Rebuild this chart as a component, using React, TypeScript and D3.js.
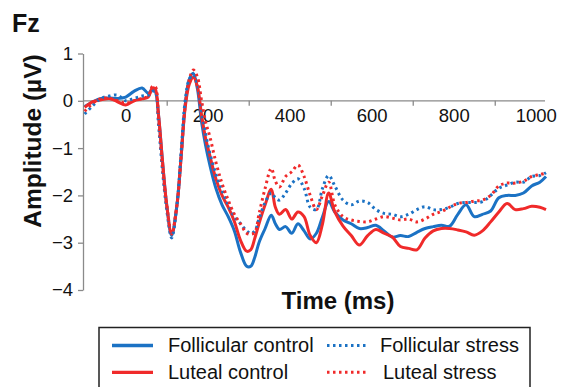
import React, { useEffect, useRef } from "react";
import * as d3 from "d3";

const times = [-100,-80,-60,-40,-20,0,20,40,55,65,72,80,90,100,112,125,135,145,155,165,175,185,195,205,220,235,250,265,280,295,305,315,325,340,355,365,375,390,405,420,435,450,465,480,495,510,530,550,570,590,610,630,650,670,690,710,730,750,770,790,810,830,850,870,890,910,930,950,970,990,1010,1025];

const follicularControl = [-0.12,-0.02,0.05,0.06,0.05,0.08,0.2,0.27,0.16,0.25,0.2,-0.3,-1.3,-2.2,-2.85,-2.2,-1.2,-0.1,0.45,0.58,0.25,-0.45,-0.95,-1.35,-1.85,-2.2,-2.45,-2.75,-3.2,-3.5,-3.5,-3.3,-3.0,-2.7,-2.42,-2.6,-2.72,-2.66,-2.8,-2.6,-2.75,-2.92,-2.8,-2.45,-2.13,-2.35,-2.52,-2.6,-2.7,-2.68,-2.63,-2.75,-2.88,-2.85,-2.87,-2.78,-2.7,-2.66,-2.63,-2.65,-2.4,-2.2,-2.45,-2.4,-2.33,-2.05,-2.0,-2.0,-1.95,-1.8,-1.72,-1.6];

const lutealControl = [-0.14,-0.02,0.02,0.05,-0.02,-0.09,0.0,0.04,0.08,0.27,0.25,-0.3,-1.3,-2.2,-2.82,-2.2,-1.2,-0.15,0.35,0.5,0.3,-0.3,-0.8,-1.15,-1.65,-2.0,-2.25,-2.55,-2.95,-3.18,-3.15,-2.9,-2.6,-2.2,-1.87,-2.25,-2.4,-2.3,-2.5,-2.35,-2.45,-2.85,-3.0,-2.6,-1.95,-2.35,-2.65,-2.85,-3.05,-2.85,-2.72,-2.8,-2.88,-3.08,-3.12,-3.15,-2.9,-2.75,-2.7,-2.7,-2.73,-2.77,-2.84,-2.75,-2.56,-2.35,-2.17,-2.3,-2.28,-2.23,-2.25,-2.3];

const follicularStress = [-0.28,-0.1,0.05,0.1,0.12,0.0,0.05,0.1,0.12,0.2,0.2,-0.5,-1.5,-2.3,-2.9,-2.2,-1.1,0.0,0.45,0.55,0.35,-0.2,-0.7,-1.1,-1.55,-1.9,-2.2,-2.45,-2.6,-2.75,-2.8,-2.75,-2.5,-2.15,-1.95,-2.05,-2.1,-1.95,-1.75,-1.65,-1.85,-2.25,-2.3,-1.85,-1.58,-1.8,-2.1,-2.2,-2.12,-2.15,-2.3,-2.38,-2.4,-2.45,-2.4,-2.3,-2.24,-2.3,-2.3,-2.25,-2.17,-2.15,-2.15,-2.13,-2.0,-1.85,-1.78,-1.72,-1.72,-1.6,-1.58,-1.52];

const lutealStress = [-0.22,-0.05,0.05,0.05,0.0,-0.05,0.0,0.05,0.1,0.3,0.3,-0.35,-1.4,-2.2,-2.8,-2.2,-1.2,-0.1,0.45,0.65,0.5,0.0,-0.45,-0.75,-1.3,-1.75,-2.1,-2.4,-2.6,-2.8,-2.82,-2.78,-2.4,-1.85,-1.43,-1.7,-1.82,-1.6,-1.5,-1.36,-1.6,-2.0,-2.3,-2.0,-1.72,-2.2,-2.45,-2.52,-2.55,-2.56,-2.5,-2.45,-2.48,-2.52,-2.5,-2.56,-2.5,-2.4,-2.34,-2.25,-2.17,-2.15,-2.12,-2.1,-2.0,-1.8,-1.74,-1.74,-1.7,-1.6,-1.56,-1.53];

const yTicks = [1, 0, -1, -2, -3, -4];
const xLabelTicks = [0, 200, 400, 600, 800, 1000];
const xMarkTicks = [100, 300, 500, 700, 900];

const BLUE = "#1b72c4";
const RED = "#f02a2a";

const seriesList = [
  { name: "Follicular control", values: follicularControl, color: BLUE, dotted: false },
  { name: "Luteal control", values: lutealControl, color: RED, dotted: false },
  { name: "Follicular stress", values: follicularStress, color: BLUE, dotted: true },
  { name: "Luteal stress", values: lutealStress, color: RED, dotted: true },
];

const FONT = "'Liberation Sans', Arial, sans-serif";

export default function App() {
  const axRef = useRef<SVGGElement>(null);
  const x = d3.scaleLinear().domain([-100, 1025]).range([84.7, 546]);
  const y = d3.scaleLinear().domain([-4, 1]).range([290, 53.5]);

  useEffect(() => {
    const g = d3.select(axRef.current);
    g.selectAll("*").remove();
    const ya = g.append("g").attr("transform", "translate(83,0)")
      .call(d3.axisLeft(y).tickValues(yTicks).tickSize(5).tickSizeOuter(0).tickPadding(5).tickFormat(d3.format("d")));
    ya.select(".domain").attr("stroke", "#8a8a8a").attr("stroke-width", 1.3);
    ya.selectAll(".tick line").attr("stroke", "#8a8a8a").attr("stroke-width", 1.3);
    ya.selectAll(".tick text").attr("font-size", 18.5).attr("font-family", FONT).attr("fill", "#111");

    const xa = g.append("g").attr("transform", `translate(0,${y(0)})`)
      .call(d3.axisBottom(x).tickValues(xMarkTicks).tickSize(5).tickSizeOuter(0).tickFormat(() => ""));
    xa.select(".domain").attr("stroke", "#8a8a8a").attr("stroke-width", 1.3).attr("d", `M83,0H545`);
    xa.selectAll(".tick line").attr("stroke", "#8a8a8a").attr("stroke-width", 1.3);

    const xl = g.append("g").attr("transform", `translate(0,${y(0)})`)
      .call(d3.axisBottom(x).tickValues(xLabelTicks).tickSize(0).tickPadding(8).tickFormat(d3.format("d")));
    xl.select(".domain").remove();
    xl.selectAll(".tick text").attr("font-size", 18.5).attr("font-family", FONT).attr("fill", "#111");
  }, []);

  const line = d3.line<number>()
    .x((_, i) => x(times[i]))
    .y((d) => y(d))
    .curve(d3.curveCatmullRom.alpha(0.5));

  return (
    <svg width={566} height={387} style={{ position: "absolute", left: 0, top: 0, background: "#fff" }}>
      <text x={12} y={32} fontFamily={FONT} fontWeight="bold" fontSize={25} fill="#111">Fz</text>
      <text transform="translate(41,141) rotate(-90)" textAnchor="middle" fontFamily={FONT} fontWeight="bold" fontSize={24.5} fill="#111">Amplitude (µV)</text>
      <g ref={axRef} />
      {seriesList.map((s) => (
        <path key={s.name} d={line(s.values) || ""} fill="none" stroke={s.color}
          strokeWidth={3} strokeDasharray={s.dotted ? "2.5 3.5" : undefined}
          strokeLinejoin="round" />
      ))}
      <text x={338} y={309} textAnchor="middle" fontFamily={FONT} fontWeight="bold" fontSize={24} fill="#111">Time (ms)</text>
      <rect x={99} y={327.5} width={431} height={80} fill="none" stroke="#222" strokeWidth={1.5} />
      <line x1={112} x2={153} y1={345.5} y2={345.5} stroke={BLUE} strokeWidth={3.3} />
      <text x={168} y={352} fontFamily={FONT} fontSize={20} fill="#111">Follicular control</text>
      <line x1={327} x2={366} y1={345.5} y2={345.5} stroke={BLUE} strokeWidth={3} strokeDasharray="2.5 3.5" />
      <text x={380} y={352} fontFamily={FONT} fontSize={20} fill="#111">Follicular stress</text>
      <line x1={112} x2={153} y1={372.3} y2={372.3} stroke={RED} strokeWidth={3.3} />
      <text x={168} y={378.5} fontFamily={FONT} fontSize={20} fill="#111">Luteal control</text>
      <line x1={327} x2={366} y1={372.3} y2={372.3} stroke={RED} strokeWidth={3} strokeDasharray="2.5 3.5" />
      <text x={383} y={378.5} fontFamily={FONT} fontSize={20} fill="#111">Luteal stress</text>
    </svg>
  );
}
